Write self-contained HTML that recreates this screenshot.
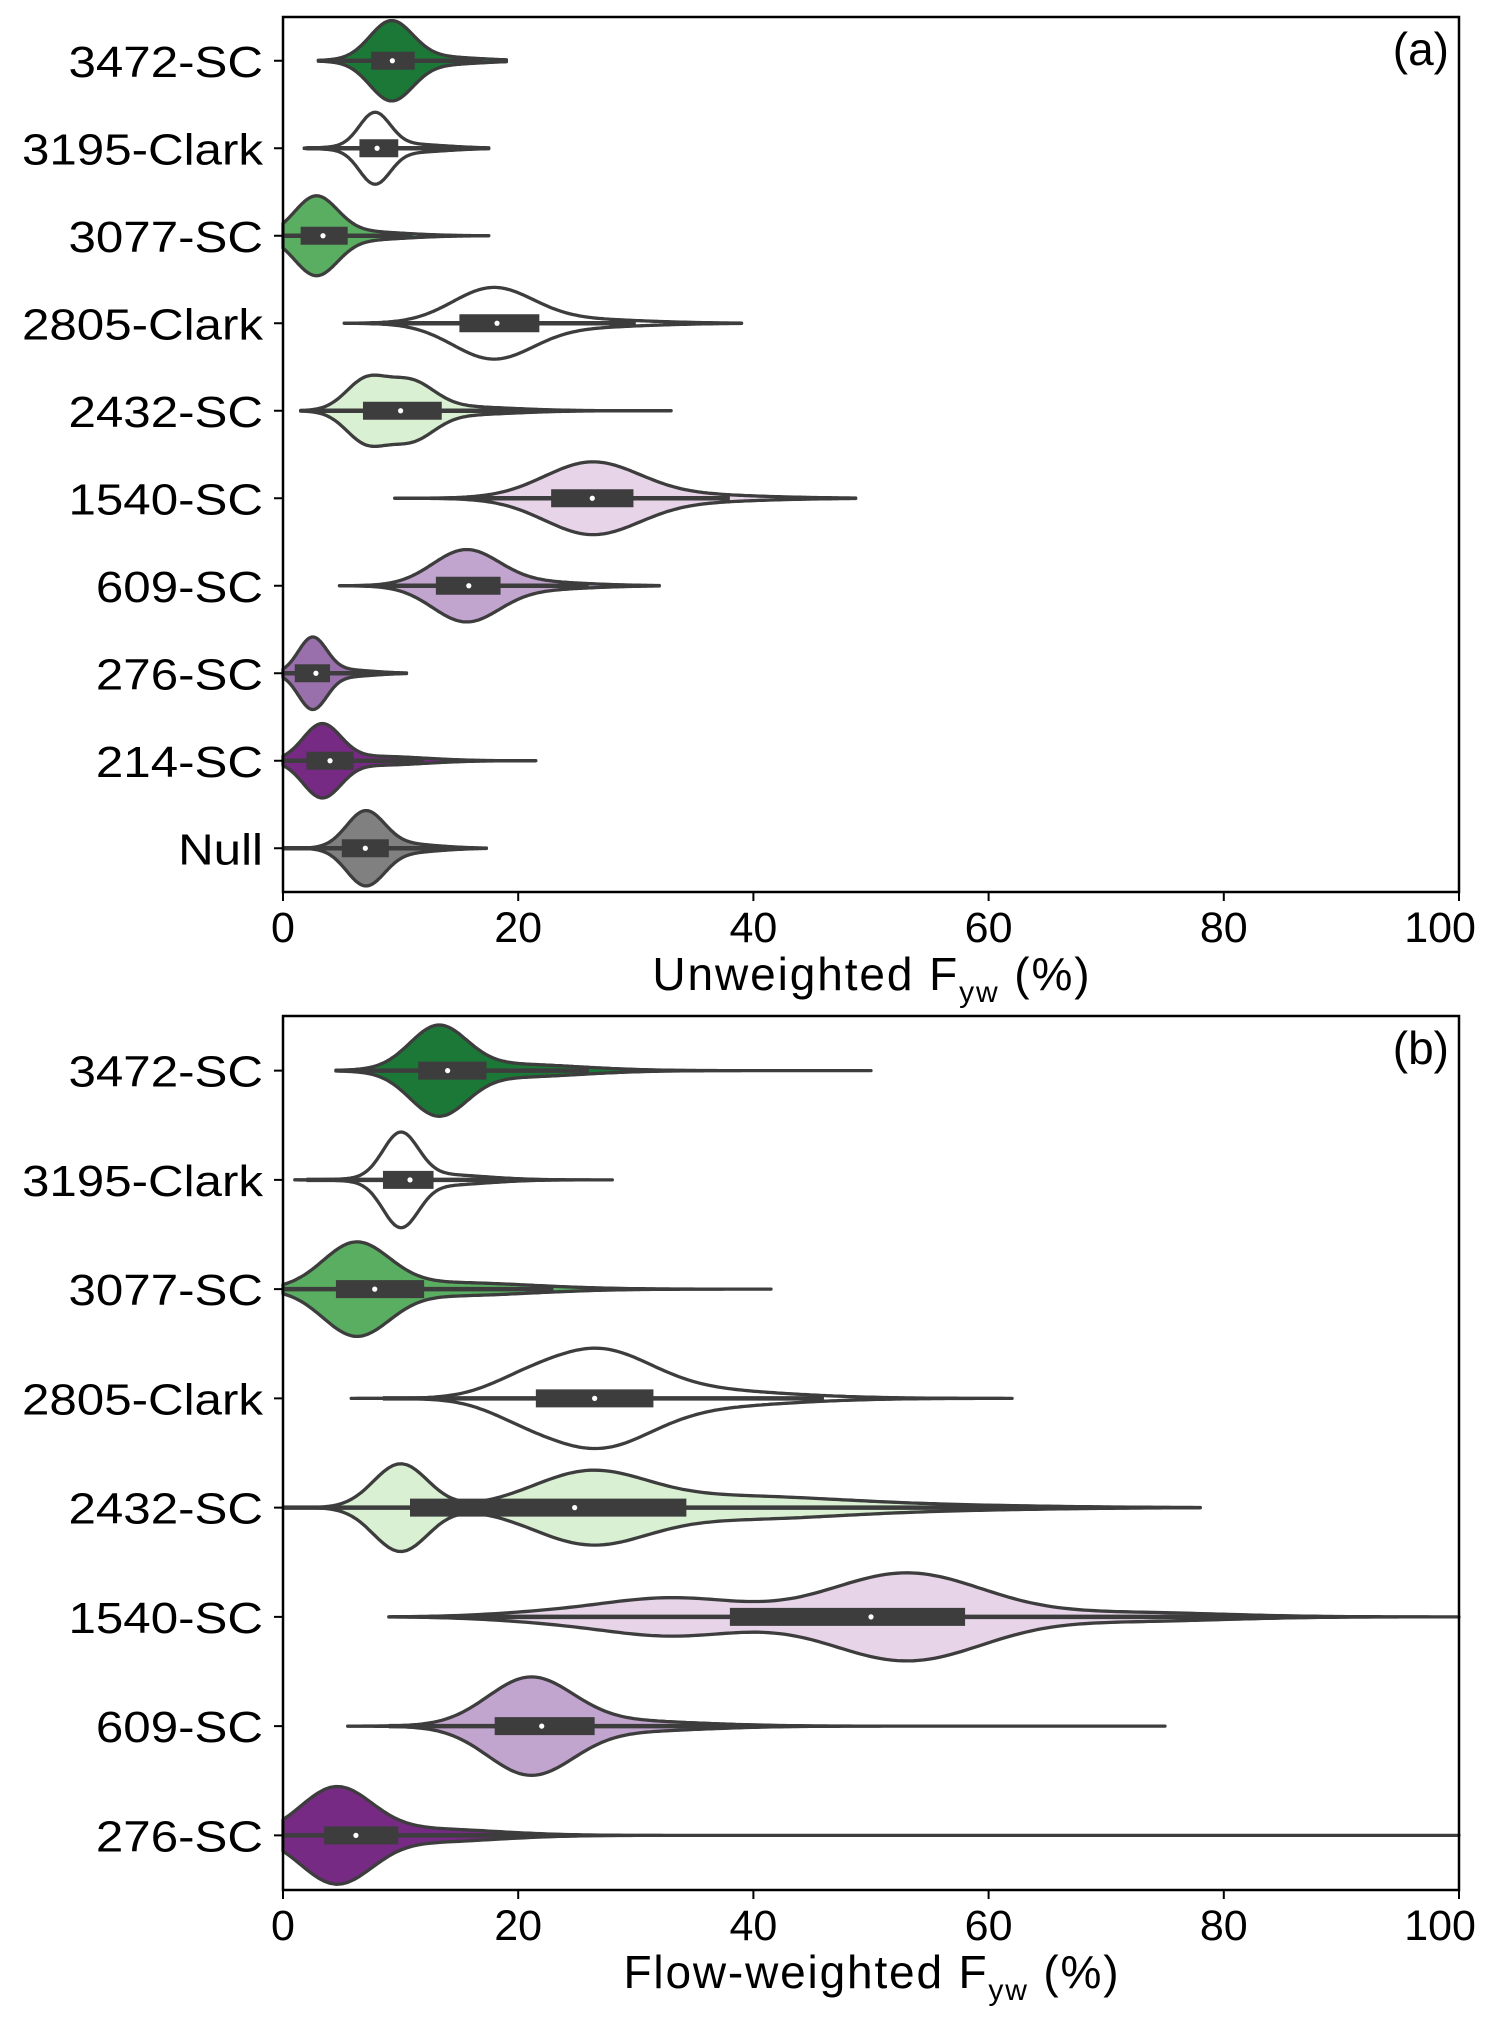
<!DOCTYPE html>
<html><head><meta charset="utf-8"><style>
html,body{margin:0;padding:0;background:#fff;}
svg{display:block;}
text{font-family:"Liberation Sans",sans-serif;fill:#000;}
</style></head><body>
<svg id="chart" width="1492" height="2029" viewBox="0 0 1492 2029" xmlns="http://www.w3.org/2000/svg"></svg>
<script>
// ---- Panel (a) data ----
const catsA = ["3472-SC","3195-Clark","3077-SC","2805-Clark","2432-SC","1540-SC","609-SC","276-SC","214-SC","Null"];
const colorsA = ["#1b7837","#ffffff","#5aae61","#ffffff","#d9f0d3","#e7d4e8","#c2a5cf","#9970ab","#762a83","#808080"];
const extentA = [[3,19],[1.8,17.5],[0,17.5],[5.2,39],[1.5,33],[9.5,48.7],[4.8,32],[0,10.5],[0,21.5],[0,17.3]];
const boxA = [[7.5,11.2],[6.5,9.8],[1.5,5.5],[15,21.8],[6.8,13.5],[22.8,29.8],[13,18.5],[1,4],[2,6],[5,9]];
const whiskA = [[3.5,17],[2,15],[0,11],[7.5,30],[2,24],[14.5,38],[7.5,26],[0,8],[0,12],[0,15]];
const medA = [9.3,8,3.4,18.2,10,26.3,15.8,2.8,4,7];
// mixture components per violin: [center, sigma, half-height fraction]
const compsA = [
 [[9.2,1.8,0.42],[12,4,0.05]],
 [[7.8,1.3,0.37],[10,3.5,0.05]],
 [[2.8,1.8,0.42],[6,4,0.05]],
 [[17.8,3.4,0.38],[24,6,0.05]],
 [[7,1.7,0.32],[10.8,2,0.3],[14,5,0.05]],
 [[26.2,4,0.38],[32,7,0.05]],
 [[15.5,2.8,0.38],[20,5,0.05]],
 [[2.5,1.2,0.39],[5,2.5,0.04]],
 [[3.3,1.6,0.4],[8,4,0.05]],
 [[7,1.6,0.4],[10,3,0.05]]
];
// ---- Panel (b) data ----
const catsB = ["3472-SC","3195-Clark","3077-SC","2805-Clark","2432-SC","1540-SC","609-SC","276-SC"];
const colorsB = ["#1b7837","#ffffff","#5aae61","#ffffff","#d9f0d3","#e7d4e8","#c2a5cf","#762a83"];
const extentB = [[4.5,50],[1,28],[0,41.5],[5.8,62],[0,78],[9,100],[5.5,75],[0,100]];
const boxB = [[11.5,17.3],[8.5,12.8],[4.5,12],[21.5,31.5],[10.8,34.3],[38,58],[18,26.5],[3.5,9.8]];
const whiskB = [[5.5,26],[2,19],[0,23],[8.5,46],[0,67],[12.5,85.5],[9,39],[0,25]];
const medB = [14,10.8,7.8,26.5,24.8,50,22,6.2];
const compsB = [
 [[13.2,2.4,0.38],[19,6,0.06]],
 [[10,1.5,0.4],[13,4,0.05]],
 [[6.2,2.8,0.4],[14,7,0.06]],
 [[26.5,4.6,0.4],[20,3,0.08],[34,8,0.08]],
 [[10,2.3,0.4],[26,4.8,0.3],[38,9,0.1],[55,10,0.02]],
 [[33,6,0.17],[53,6.5,0.4],[72,8,0.04],[22,5,0.03]],
 [[21,3.6,0.42],[28,7,0.05]],
 [[4.5,3,0.42],[12,6,0.06]]
];
const ticks = [0,20,40,60,80,100];

const NS="http://www.w3.org/2000/svg";
const svg=document.getElementById('chart');
function el(tag,attrs,parent){const e=document.createElementNS(NS,tag);for(const k in attrs)e.setAttribute(k,attrs[k]);(parent||svg).appendChild(e);return e;}
function stretch(t,f){const w=t.getComputedTextLength();t.setAttribute('textLength',(w*f).toFixed(1));t.setAttribute('lengthAdjust','spacingAndGlyphs');}

function drawPanel(cfg){
  const {top,bottom,left,right,cats,colors,extent,box,whisk,med,comps,title,tag,name}=cfg;
  const g=el('g',{});
  
  
  const xs=v=>left+(right-left)*v/100;
  const step=(bottom-top)/cats.length;
  const ys=i=>top+step*(i+0.5);
  cats.forEach((c,i)=>{
    const y=ys(i);
    const vg=el('g',{},g);
    
    
    const [a,b]=extent[i];
    const n=200;let up=[],dn=[];
    for(let k=0;k<=n;k++){
      const v=a+(b-a)*k/n;
      let d=0;comps[i].forEach(p=>{d+=p[2]*Math.exp(-Math.pow(v-p[0],2)/(2*p[1]*p[1]));});
      const h=d*step;
      up.push([xs(v),y-h]);dn.push([xs(v),y+h]);
    }
    const pts=up.concat(dn.reverse());
    el('path',{d:'M'+pts.map(p=>p[0].toFixed(1)+','+p[1].toFixed(1)).join('L')+'Z',fill:colors[i],stroke:'#3d3d3d','stroke-width':3.3,'stroke-linejoin':'round'},vg);
    el('line',{x1:xs(whisk[i][0]),x2:xs(whisk[i][1]),y1:y,y2:y,stroke:'#3d3d3d','stroke-width':4.5},vg);
    el('rect',{x:xs(box[i][0]),y:y-9,width:xs(box[i][1])-xs(box[i][0]),height:18,fill:'#3d3d3d'},vg);
    el('circle',{cx:xs(med[i]),cy:y,r:2.6,fill:'#fff'},vg);
    el('line',{x1:left-9,x2:left,y1:y,y2:y,stroke:'#000','stroke-width':2},g);
    const t=el('text',{x:left-20,y:y+16,'text-anchor':'end','font-size':44},g);
    t.textContent=c;
    
    
    stretch(t,1.12);
  });
  el('rect',{x:left,y:top,width:right-left,height:bottom-top,fill:'none',stroke:'#000','stroke-width':2.5},g);
  ticks.forEach(v=>{
    el('line',{x1:xs(v),x2:xs(v),y1:bottom,y2:bottom+9,stroke:'#000','stroke-width':2},g);
    const t=el('text',{x:xs(v),y:bottom+50,'text-anchor':'middle','font-size':43},g);
    t.textContent=v;
    
    
    const w=t.getComputedTextLength();
    if(xs(v)+w/2>1476){t.setAttribute('x',(1476-w/2).toFixed(1));}
  });
  const tt=el('text',{x:(left+right)/2,y:bottom+98,'text-anchor':'middle','font-size':46},g);
  
  
  tt.innerHTML=title+' F<tspan font-size="30" dy="12">yw</tspan><tspan dy="-12"> (%)</tspan>';
  const w=tt.getComputedTextLength();
  tt.setAttribute('textLength',(w*1.08).toFixed(1));
  const pl=el('text',{x:right-10,y:top+48,'text-anchor':'end','font-size':46},g);
  pl.textContent=tag;
  
  
}
drawPanel({top:17,bottom:892,left:283,right:1459,cats:catsA,colors:colorsA,extent:extentA,box:boxA,whisk:whiskA,med:medA,comps:compsA,title:'Unweighted',tag:'(a)',name:'panel-a-unweighted'});
drawPanel({top:1016,bottom:1890,left:283,right:1459,cats:catsB,colors:colorsB,extent:extentB,box:boxB,whisk:whiskB,med:medB,comps:compsB,title:'Flow-weighted',tag:'(b)',name:'panel-b-flow-weighted'});
</script>
</body></html>
